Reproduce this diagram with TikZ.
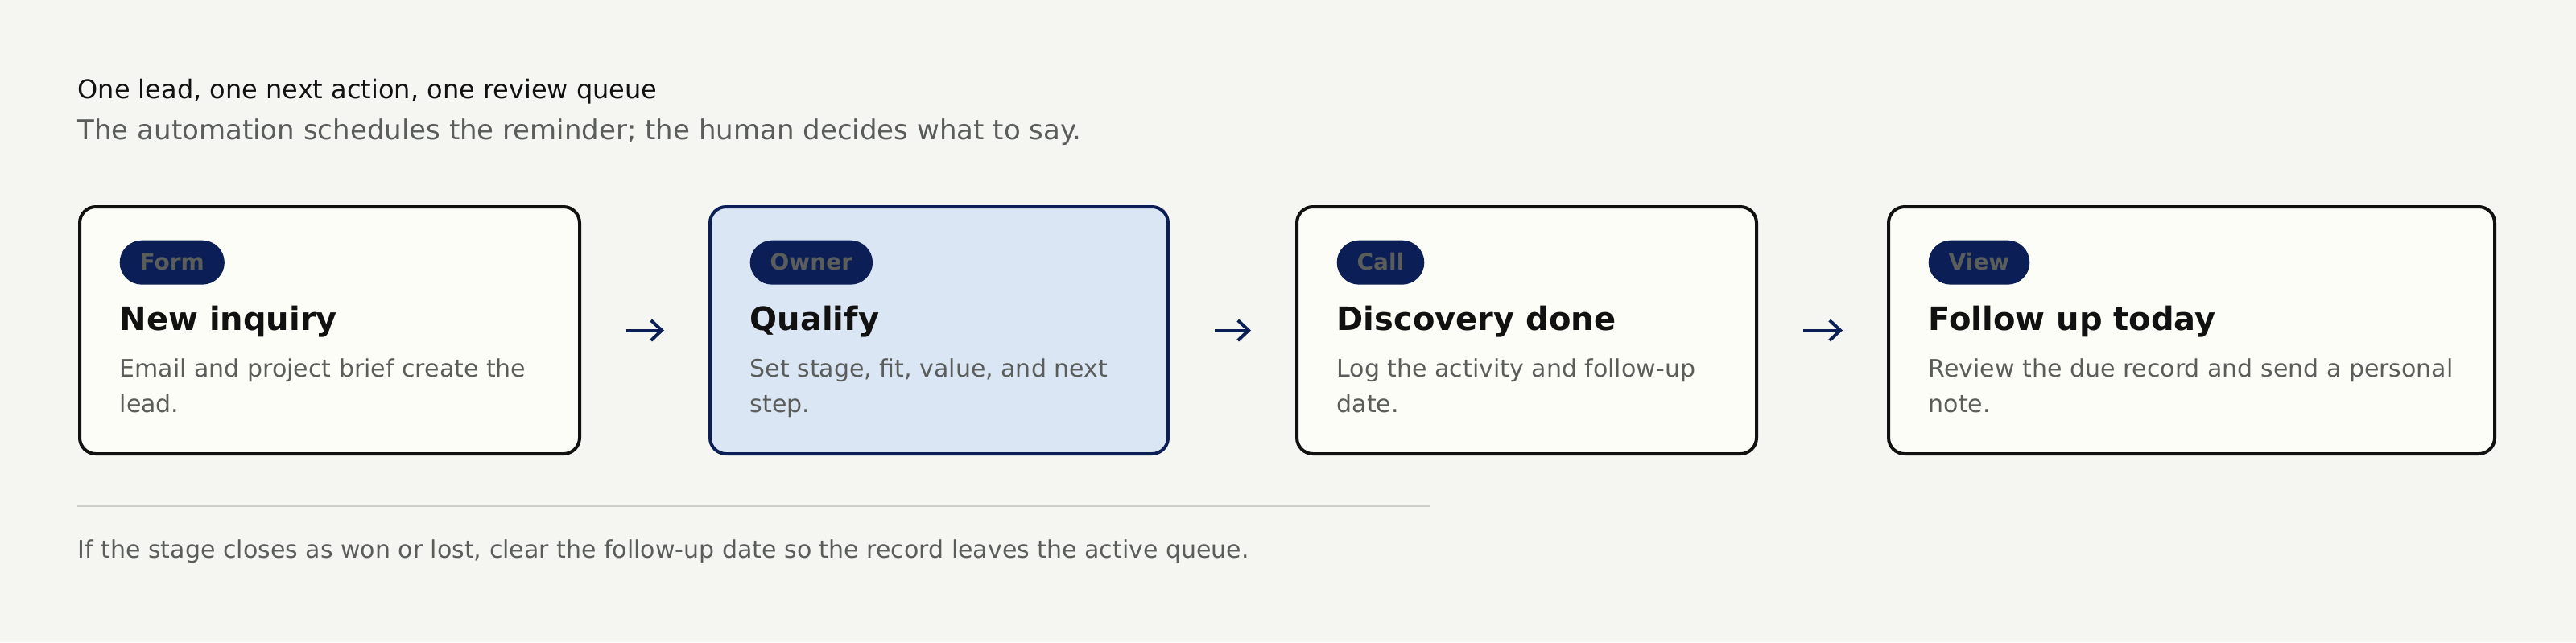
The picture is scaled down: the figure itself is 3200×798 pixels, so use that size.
\documentclass[tikz,border=0pt]{standalone}
\usepackage{fontspec}
\setmainfont{DejaVu Sans}
\usetikzlibrary{positioning, arrows.meta}

\definecolor{pagebg}{HTML}{F5F6F2}
\definecolor{cardfill}{HTML}{FDFDF8}
\definecolor{activefill}{HTML}{DBE6F4}
\definecolor{navy}{HTML}{0B1F56}
\definecolor{ink}{HTML}{111111}
\definecolor{muted}{HTML}{5A5D5A}
\definecolor{rulegray}{HTML}{CDCEC9}

\begin{document}
\begin{tikzpicture}[
    x=0.3pt, y=-0.3pt,
    card/.style={draw=ink, line width=1.2pt, rounded corners=6pt, fill=cardfill, minimum height=92.1pt},
    badge/.style={fill=navy, text=muted, rounded corners=8.25pt, minimum height=16.5pt, inner xsep=7.5pt, inner ysep=0pt, text height=6.2pt, text depth=0.6pt, anchor=north west, font=\fontsize{8.4}{10}\selectfont\bfseries},
    cardtitle/.style={anchor=base west, inner sep=0pt, text=ink, font=\fontsize{12}{14}\selectfont\bfseries},
    desc/.style={anchor=base west, inner sep=0pt, text=muted, align=left, font=\fontsize{9}{13.2}\selectfont},
    flow/.style={draw=navy, line width=1.2pt, -{Straight Barb[length=4pt, width=7.5pt]}, shorten <=16.8pt, shorten >=16.5pt},
]

% Background
\fill[pagebg] (0,0) rectangle (3200,798);

% Heading
\node[anchor=base west, inner sep=0pt, text=ink, font=\fontsize{9.6}{12}\selectfont] (heading) at (96,122) {One lead, one next action, one review queue};
\node[anchor=base west, inner sep=0pt, text=muted, font=\fontsize{10.2}{12}\selectfont] (subheading) at (96,173) {The automation schedules the reminder; the human decides what to say.};

% Cards
\node[card, minimum width=186.3pt] (inquiry) at (409.5,410.5) {};
\node[card, minimum width=170.7pt, fill=activefill, draw=navy] (qualify) at (1166.5,410.5) {};
\node[card, minimum width=171.3pt] (discovery) at (1896.5,410.5) {};
\node[card, minimum width=225.9pt] (followup) at (2722.5,410.5) {};

% Card contents (desc is anchored on its last line)
\node[badge] (inquiry-tag) at ([shift={(51,43)}]inquiry.north west) {Form};
\node[cardtitle] (inquiry-title) at ([shift={(51,155)}]inquiry.north west) {New inquiry};
\node[desc] (inquiry-text) at ([shift={(51,257)}]inquiry.north west) {Email and project brief create the\\lead.};

\node[badge] (qualify-tag) at ([shift={(51,43)}]qualify.north west) {Owner};
\node[cardtitle] (qualify-title) at ([shift={(51,155)}]qualify.north west) {Qualify};
\node[desc] (qualify-text) at ([shift={(51,257)}]qualify.north west) {Set stage, fit, value, and next\\step.};

\node[badge] (discovery-tag) at ([shift={(51,43)}]discovery.north west) {Call};
\node[cardtitle] (discovery-title) at ([shift={(51,155)}]discovery.north west) {Discovery done};
\node[desc] (discovery-text) at ([shift={(51,257)}]discovery.north west) {Log the activity and follow-up\\date.};

\node[badge] (followup-tag) at ([shift={(51,43)}]followup.north west) {View};
\node[cardtitle] (followup-title) at ([shift={(51,155)}]followup.north west) {Follow up today};
\node[desc] (followup-text) at ([shift={(51,257)}]followup.north west) {Review the due record and send a personal\\note.};

% Flow
\draw[flow] (inquiry) -- (qualify);
\draw[flow] (qualify) -- (discovery);
\draw[flow] (discovery) -- (followup);

% Footer
\draw[rulegray, line width=0.6pt] (96,629) -- (1776,629);
\node[anchor=base west, inner sep=0pt, text=muted, font=\fontsize{9}{10}\selectfont] (note) at (96,693) {If the stage closes as won or lost, clear the follow-up date so the record leaves the active queue.};

\end{tikzpicture}
\end{document}
